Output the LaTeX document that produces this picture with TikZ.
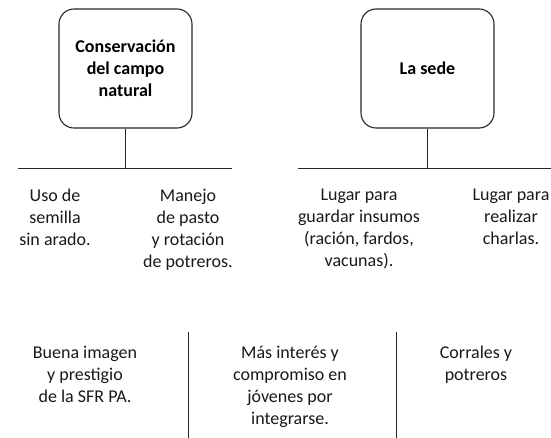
\documentclass[tikz,border=0pt]{standalone}
\usepackage{fontspec}
\setmainfont{Carlito}
\begin{document}
\begin{tikzpicture}[x=1pt,y=-1pt,
  topicbox/.style={draw=black!85, line width=1.1pt, rounded corners=15pt,
    minimum width=133pt, minimum height=119pt, inner sep=0pt,
    align=center, font=\fontsize{18pt}{22pt}\selectfont\bfseries},
  itemtext/.style={anchor=north, inner sep=0pt, align=center,
    font=\fontsize{18pt}{22pt}\selectfont, text=black!90},
  conn/.style={draw=black!85, line width=0.9pt}]
\useasboundingbox (0,0) rectangle (551,438);
% top boxes
\node[topicbox] (b1) at (125.5,68.5) {Conservación\\del campo\\natural};
\node[topicbox] (b2) at (427.5,68.5) {La sede};
% horizontal bars
\coordinate (h1l) at (18,168);
\coordinate (h1r) at (232,168);
\coordinate (h1m) at (125.5,168);
\coordinate (h2l) at (298,168);
\coordinate (h2r) at (551,168);
\coordinate (h2m) at (427.5,168);
\draw[conn] (b1.south) -- (h1m);
\draw[conn] (h1l) -- (h1r);
\draw[conn] (b2.south) -- (h2m);
\draw[conn] (h2l) -- (h2r);
% item texts
\node[itemtext] (t1) at (55,189) {Uso de\\semilla\\sin arado.};
\node[itemtext] (t2) at (188,189) {Manejo\\de pasto\\y rotación\\de potreros.};
\node[itemtext] (t3) at (359,189) {Lugar para\\guardar insumos\\(ración, fardos,\\vacunas).};
\node[itemtext] (t4) at (511,189) {Lugar para\\realizar\\charlas.};
% bottom row
\node[itemtext] (u1) at (85,346) {Buena imagen\\y prestigio\\de la SFR PA.};
\node[itemtext] (u2) at (290,346) {Más interés y\\compromiso en\\jóvenes por\\integrarse.};
\node[itemtext] (u3) at (476,346) {Corrales y\\potreros};
\coordinate (v1t) at (188,332);
\coordinate (v1b) at (188,438);
\coordinate (v2t) at (396,332);
\coordinate (v2b) at (396,438);
\draw[conn] (v1t) -- (v1b);
\draw[conn] (v2t) -- (v2b);
\end{tikzpicture}
\end{document}
